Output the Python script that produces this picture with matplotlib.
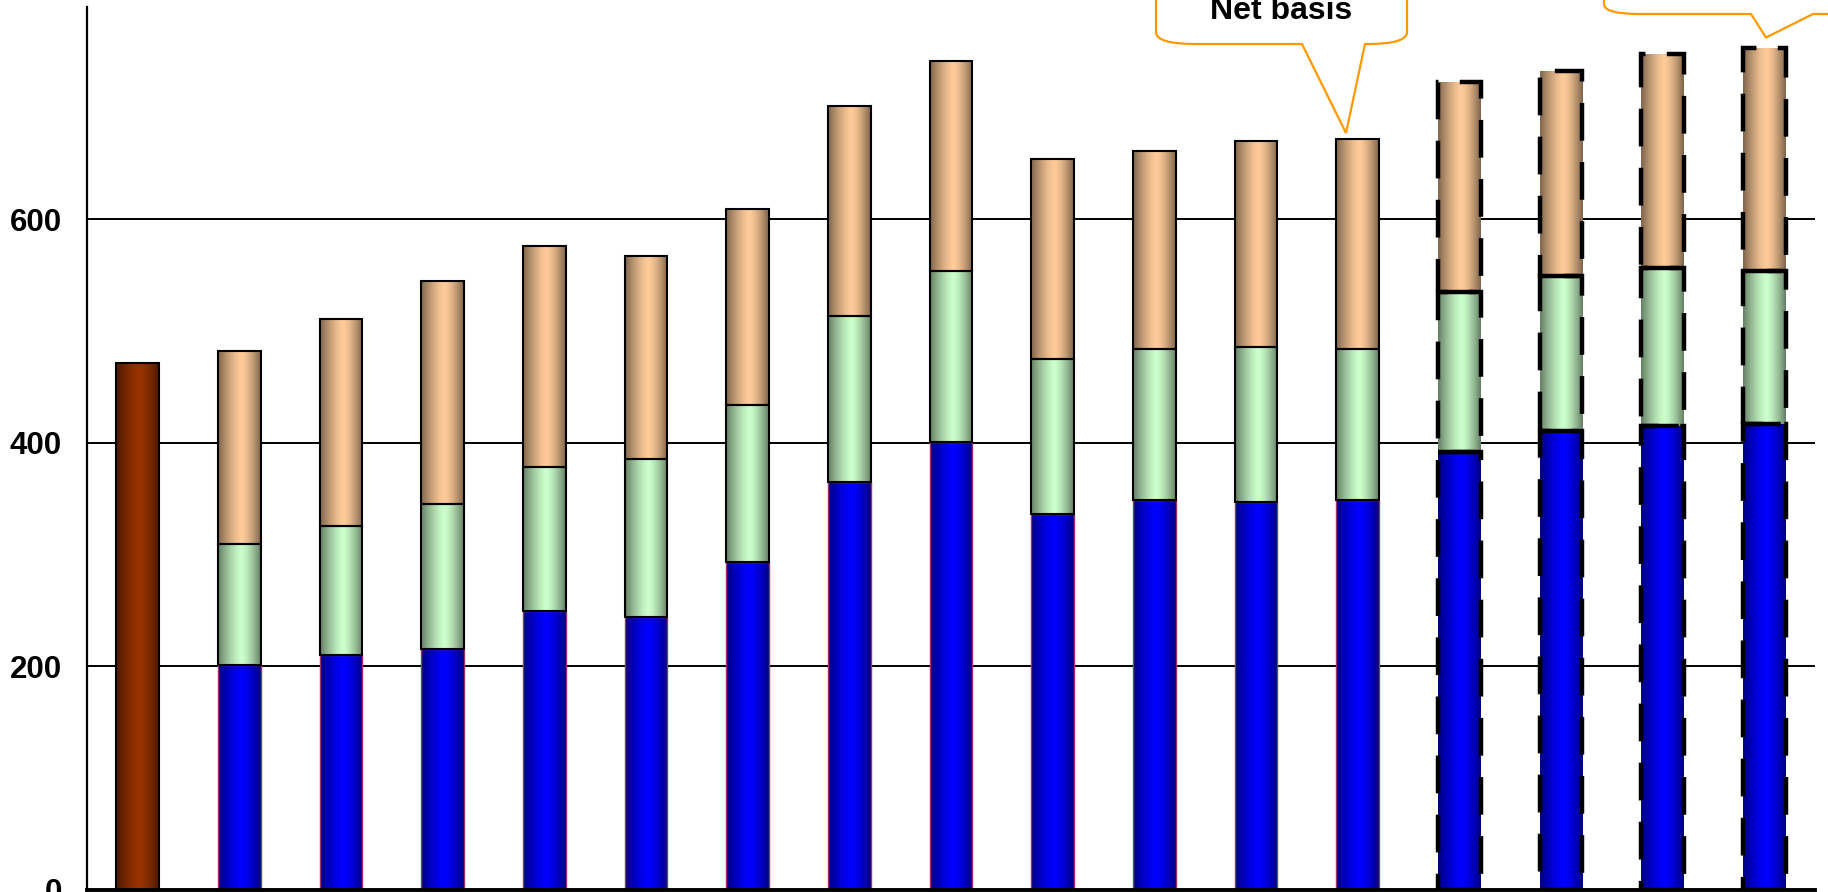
import numpy as np
import matplotlib
matplotlib.use("Agg")
import matplotlib.pyplot as plt
from matplotlib.path import Path
from matplotlib.patches import PathPatch
from matplotlib.colors import to_rgb

plt.rcParams['font.family'] = ['Liberation Sans', 'DejaVu Sans']

# stacked values, one entry per column (first column is a single total)
first_total = 471
blue = [None, 201, 210, 215, 249, 244, 293, 365, 401, 336, 349, 347, 349, 392, 410, 415, 417]
green = [None, 108, 115, 130, 129, 141, 141, 148, 153, 139, 135, 139, 135, 143, 139, 141, 137]
tan = [None, 173, 186, 200, 198, 182, 175, 188, 188, 179, 177, 184, 188, 188, 184, 192, 199]
projected = [False] * 13 + [True] * 4
yticks = [0, 200, 400, 600]

W, H = 1828, 892
fig = plt.figure(figsize=(W / 100, H / 100), dpi=100)
ax = fig.add_axes([87 / W, 2.5 / H, 1728 / W, 882.5 / H])


def px(x, y):
    # pixel position measured from the top-left corner -> figure fraction
    return x / W, 1 - y / H


def shade(light, n=64, peak=0.55):
    light = np.array(to_rgb(light))
    dark = light * 0.5
    u = np.linspace(0, 1, n)
    d = np.where(u < peak, (peak - u) / peak, (u - peak) / (1 - peak))
    s = d ** 1.4
    return (light[None, :] * (1 - s[:, None]) + dark[None, :] * s[:, None])[None, :, :]


def gradient_bars(x, h, bottom, light, edge, lw, dashed):
    bars = ax.bar(x, h, bottom=bottom, width=0.42, facecolor='none',
                  edgecolor=edge, linewidth=lw, zorder=3)
    img = shade(light)
    for b, d in zip(bars, dashed):
        x0, y0 = b.get_x(), b.get_y()
        im = ax.imshow(img, extent=[x0, x0 + b.get_width(), y0, y0 + b.get_height()],
                       aspect='auto', interpolation='bilinear', zorder=2)
        im.set_clip_path(b)
        if d:
            b.set_edgecolor('black')
            b.set_linewidth(3.2)
            b.set_linestyle((0, (8.5, 4.8)))
    return bars


n = len(blue)
xs = np.arange(n)
idx = xs[1:]
b_blue = np.array(blue[1:], dtype=float)
b_green = np.array(green[1:], dtype=float)
b_tan = np.array(tan[1:], dtype=float)
dash = projected[1:]

gradient_bars([0], [first_total], [0], '#993300', 'black', 1.5, [False])
gradient_bars(idx, b_blue, 0, '#0000FF', '#993366', 1.0, dash)
gradient_bars(idx, b_green, b_blue, '#CCFFCC', 'black', 1.5, dash)
gradient_bars(idx, b_tan, b_blue + b_green, '#FFCC99', 'black', 1.5, dash)

ax.set_xlim(-0.5, n - 0.5)
ax.set_ylim(0, 790)
ax.set_yticks(yticks)
ax.set_yticklabels([str(v) for v in yticks], fontsize=22.5, fontweight='bold')
ax.set_xticks([])
ax.tick_params(axis='y', length=0, pad=18)
ax.yaxis.grid(True, color='black', linewidth=1.4)
ax.set_axisbelow(True)
for side in ['top', 'right']:
    ax.spines[side].set_visible(False)
ax.spines['left'].set_linewidth(1.6)
ax.spines['bottom'].set_linewidth(2.8)
ax.spines['bottom'].set_zorder(5)

# speech-bubble callouts along the top edge
orange = '#FF9900'
C3, L2, M = Path.CURVE3, Path.LINETO, Path.MOVETO
bubble1 = [((1156, -40), M), ((1156, 32), L2), ((1156, 44), C3), ((1195, 44), C3),
           ((1302, 44), L2), ((1346, 133), L2), ((1365, 44), L2),
           ((1368, 44), L2), ((1407, 44), C3), ((1407, 32), C3), ((1407, -40), L2),
           ((1156, -40), Path.CLOSEPOLY)]
bubble2 = [((1604, -40), M), ((1604, 4), L2), ((1604, 14), C3), ((1639, 14), C3),
           ((1751, 14), L2), ((1766, 37.5), L2), ((1813, 14), L2),
           ((1850, 14), L2), ((1850, -40), L2), ((1604, -40), Path.CLOSEPOLY)]
for bub in [bubble1, bubble2]:
    verts = [px(*p) for p, _ in bub]
    codes = [c for _, c in bub]
    fig.add_artist(PathPatch(Path(verts, codes), facecolor='white', edgecolor=orange,
                             linewidth=1.6, transform=fig.transFigure, zorder=10))

tx, ty = px(1281, 19)
fig.text(tx, ty, 'Net basis', ha='center', va='baseline', fontsize=23,
         fontweight='bold', zorder=11)

fig.savefig('out.png', dpi=100)
